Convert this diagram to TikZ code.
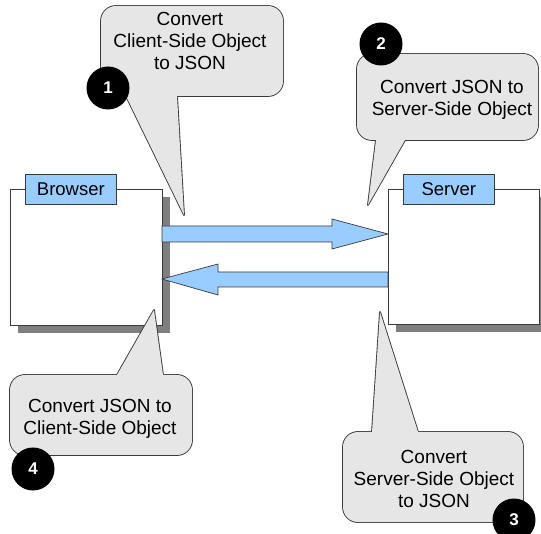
\documentclass[tikz,border=0pt]{standalone}
\usepackage{fontspec}
\setmainfont{Liberation Sans}
\usetikzlibrary{shadows}

\definecolor{tabblue}{HTML}{99CCFF}
\definecolor{calloutfill}{HTML}{E6E6E6}
\definecolor{edge}{HTML}{3A3A3A}
\definecolor{shadowgray}{HTML}{7F7F7F}

\tikzset{
  panel/.style={draw=edge, line width=0.7pt, fill=white, inner sep=0pt,
    minimum width=152pt, minimum height=136pt, anchor=north west,
    drop shadow={shadow xshift=8pt, shadow yshift=-8pt, fill=shadowgray, opacity=1}},
  paneltab/.style={draw=edge, line width=0.7pt, fill=tabblue, inner sep=0pt,
    minimum width=91pt, minimum height=30pt, anchor=north west,
    font=\fontsize{18.5}{20}\selectfont},
  blockarrow/.style={draw=edge, line width=0.7pt, fill=tabblue, line join=miter},
  calloutrim/.style={draw=edge, line width=1.8pt, line join=round},
  calloutbody/.style={fill=calloutfill},
  callouttext/.style={align=center, inner sep=0pt, font=\fontsize{19}{22}\selectfont},
  badge/.style={circle, fill=black, text=white, inner sep=0pt, minimum size=43pt,
    font=\bfseries\fontsize{17}{17}\selectfont},
}

\begin{document}
\begin{tikzpicture}[x=1pt, y=-1pt]
\useasboundingbox (0,0) rectangle (541,534);

% Browser and server windows with their title tabs
\node[panel] (browser) at (10,189) {};
\node[panel, minimum width=151pt, minimum height=135pt] (server) at (388,189) {};
\node[paneltab] (browsertab) at (25,174) {Browser};
\node[paneltab] (servertab) at (403,174) {Server};

% Request and response block arrows
\draw[blockarrow] (162,226) -- (332,226) -- (332,219) -- (388,234)
  -- (332,249) -- (332,242) -- (162,242) -- cycle;
\draw[blockarrow] (388,272) -- (218,272) -- (218,264) -- (162,279)
  -- (218,295) -- (218,287) -- (388,287) -- cycle;

% Callout outlines (outer half of a wide stroke stays visible)
\draw[calloutrim, rounded corners=15pt] (101,6) rectangle (283,96);
\draw[calloutrim] (126,96) -- (184,215) -- (177,96) -- cycle;
\draw[calloutrim, rounded corners=15pt] (357,54) rectangle (538,140);
\draw[calloutrim] (376,140) -- (368,205) -- (405,140) -- cycle;
\draw[calloutrim, rounded corners=15pt] (10,375) rectangle (192,455);
\draw[calloutrim] (117,375) -- (154,310) -- (163,375) -- cycle;
\draw[calloutrim, rounded corners=15pt] (343,432) rectangle (523,522);
\draw[calloutrim] (372,432) -- (380,312) -- (418,432) -- cycle;

% Callout bodies
\fill[calloutbody, rounded corners=15pt] (101,6) rectangle (283,96);
\fill[calloutbody] (126,96) -- (184,215) -- (177,96) -- cycle;
\fill[calloutbody, rounded corners=15pt] (357,54) rectangle (538,140);
\fill[calloutbody] (376,140) -- (368,205) -- (405,140) -- cycle;
\fill[calloutbody, rounded corners=15pt] (10,375) rectangle (192,455);
\fill[calloutbody] (117,375) -- (154,310) -- (163,375) -- cycle;
\fill[calloutbody, rounded corners=15pt] (343,432) rectangle (523,522);
\fill[calloutbody] (372,432) -- (380,312) -- (418,432) -- cycle;

% Callout texts
\node[callouttext] (text1) at (190,41) {Convert\\Client-Side Object\\to JSON};
\node[callouttext] (text2) at (452,100) {Convert JSON to\\Server-Side Object};
\node[callouttext] (text4) at (100,419) {Convert JSON to\\Client-Side Object};
\node[callouttext] (text3) at (434,479) {Convert\\Server-Side Object\\to JSON};

% Step numbers
\node[badge] (step1) at (108,88) {1};
\node[badge] (step2) at (381,44) {2};
\node[badge] (step3) at (514,520) {3};
\node[badge] (step4) at (33,469) {4};
\end{tikzpicture}
\end{document}
